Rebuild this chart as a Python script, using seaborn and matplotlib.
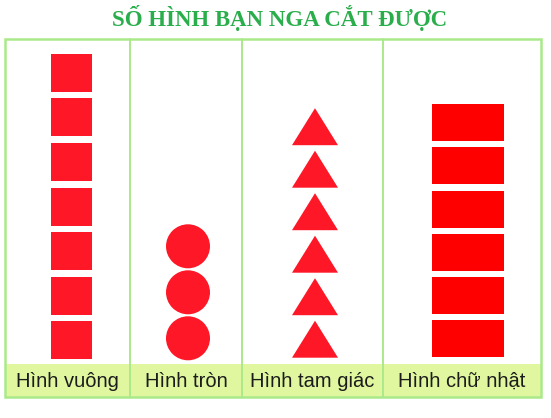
import numpy as np
import pandas as pd
import matplotlib
matplotlib.use("Agg")
import matplotlib.pyplot as plt
from matplotlib.path import Path
from matplotlib.patches import Rectangle
import seaborn as sns

# ---- data ----
title = "SỐ HÌNH BẠN NGA CẮT ĐƯỢC"
categories = ["Hình vuông", "Hình tròn", "Hình tam giác", "Hình chữ nhật"]
counts = [7, 3, 6, 6]
shapes = ["square", "circle", "triangle", "rect"]

# ---- layout (pixel coordinates of the 551x418 canvas) ----
col_edges = [5, 130, 242, 383, 541]
box_top, band_top, box_bottom = 39, 364, 397
icon_x = [71, 188, 315, 468]
icon_base_y = [340.3, 338.3, 339.2, 338.7]
icon_pitch = [44.6, 46.0, 42.5, 43.2]
icon_w = [41, 44, 46, 72]
icon_h = [38, 44, 37, 37]
icon_colors = ["#fe1726", "#fe1726", "#fe1726", "#ff0000"]

PX2PT = 0.72

def marker_for(shape, w, h):
    if shape == "circle":
        return "o"
    if shape == "triangle":
        verts = [(0, h / 2), (-w / 2, -h / 2), (w / 2, -h / 2), (0, h / 2)]
        return Path(verts, [Path.MOVETO, Path.LINETO, Path.LINETO, Path.CLOSEPOLY])
    verts = [(-w / 2, -h / 2), (w / 2, -h / 2), (w / 2, h / 2), (-w / 2, h / 2), (-w / 2, -h / 2)]
    return Path(verts, [Path.MOVETO, Path.LINETO, Path.LINETO, Path.LINETO, Path.CLOSEPOLY])

rows = []
for ci, (cat, n) in enumerate(zip(categories, counts)):
    for k in range(n):
        rows.append({"category": cat, "shape": shapes[ci],
                     "x": icon_x[ci], "y": icon_base_y[ci] - k * icon_pitch[ci]})
df = pd.DataFrame(rows)

sns.set_style("white")
fig = plt.figure(figsize=(5.51, 4.18), dpi=100)
ax = fig.add_axes([0, 0, 1, 1])

border = "#aae98a"
band = "#e0f7a0"

# label band
ax.add_patch(Rectangle((col_edges[0], band_top), col_edges[-1] - col_edges[0],
                       box_bottom - band_top, facecolor=band, edgecolor="none", zorder=1))
# outer box
ax.add_patch(Rectangle((col_edges[0], box_top), col_edges[-1] - col_edges[0],
                       box_bottom - box_top, facecolor="none", edgecolor=border,
                       linewidth=1.8, zorder=3))
# dividers
for xe in col_edges[1:-1]:
    ax.plot([xe, xe], [box_top, box_bottom], color=border, linewidth=1.4, zorder=3)

# icons
for ci, cat in enumerate(categories):
    sub = df[df["category"] == cat]
    mk = marker_for(shapes[ci], icon_w[ci], icon_h[ci])
    size_pt = max(icon_w[ci], icon_h[ci]) * PX2PT
    sns.scatterplot(data=sub, x="x", y="y", marker=mk, s=size_pt ** 2,
                    color=icon_colors[ci], linewidth=0, edgecolor="none",
                    ax=ax, zorder=4, legend=False)
ax.set_xlim(0, 551)
ax.set_ylim(418, 0)
ax.axis("off")

# category labels
for ci, cat in enumerate(categories):
    xc = (col_edges[ci] + col_edges[ci + 1]) / 2
    ax.text(xc, (band_top + box_bottom) / 2 + 1, cat, ha="center", va="center",
            fontsize=14.5, color="#1c1c1c", family=["Liberation Sans", "DejaVu Sans"], zorder=5)

# title
ax.text(280, 26, title, ha="center", va="baseline", fontsize=16.5, fontweight="bold",
        color="#2aae4c", family=["Liberation Serif", "DejaVu Serif"])

fig.savefig("out.png", dpi=100)
